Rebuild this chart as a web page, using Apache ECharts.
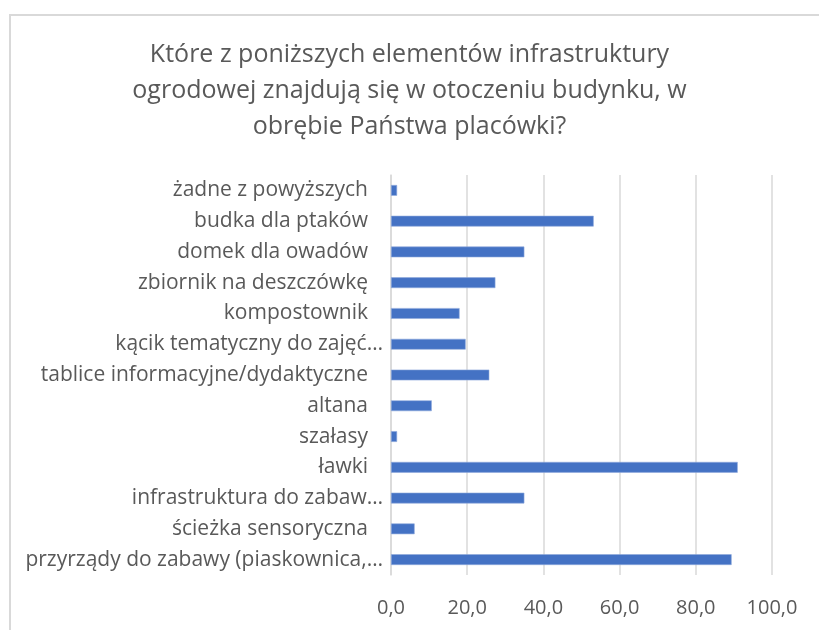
<!DOCTYPE html>
<html>
<head>
<meta charset="utf-8">
<script src="https://cdn.jsdelivr.net/npm/echarts@6/dist/echarts.min.js"></script>
<style>
  html, body { margin: 0; padding: 0; background: #fff; }
  #chart { width: 819px; height: 630px; }
</style>
</head>
<body>
<div id="chart"></div>
<script>
// kategorie od góry do dołu
const categories = [
  "żadne z powyższych",
  "budka dla ptaków",
  "domek dla owadów",
  "zbiornik na deszczówkę",
  "kompostownik",
  "kącik tematyczny do zajęć…",
  "tablice informacyjne/dydaktyczne",
  "altana",
  "szałasy",
  "ławki",
  "infrastruktura do zabaw…",
  "ścieżka sensoryczna",
  "przyrządy do zabawy (piaskownica,…"
];
const values = [1.6, 53.2, 35.0, 27.4, 18.0, 19.6, 25.8, 10.7, 1.6, 91.0, 35.0, 6.2, 89.4];
const xTicks = [0, 20, 40, 60, 80, 100];

const fontFamily = "'Open Sans', 'Noto Sans', sans-serif";
const textColor = "#595959";

let myChart = echarts.init(document.getElementById("chart"));
myChart.setOption({
  animation: false,
  textStyle: { fontFamily: fontFamily },
  title: {
    text: "Które z poniższych elementów infrastruktury\nogrodowej znajdują się w otoczeniu budynku, w\nobrębie Państwa placówki?",
    left: "center",
    top: 32,
    textStyle: {
      fontFamily: fontFamily,
      fontSize: 25,
      fontWeight: "normal",
      lineHeight: 36,
      color: textColor,
    },
  },
  // ramka wykresu (jak w Excelu)
  graphic: [
    {
      type: "rect",
      shape: { x: 10, y: 15, width: 900, height: 700 },
      style: { fill: "none", stroke: "#d9d9d9", lineWidth: 2 },
      silent: true,
    },
  ],
  grid: {
    left: 391,
    right: 47,
    top: 175,
    bottom: 55,
  },
  xAxis: {
    type: "value",
    min: xTicks[0],
    max: xTicks[xTicks.length - 1],
    interval: 20,
    axisLine: { show: false },
    axisTick: { show: false },
    axisLabel: {
      margin: 23,
      fontSize: 20,
      color: textColor,
      fontFamily: fontFamily,
      formatter: (v) => v.toFixed(1).replace(".", ","),
    },
    splitLine: {
      lineStyle: { color: "#d9d9d9", width: 1.5 },
    },
  },
  yAxis: {
    type: "category",
    inverse: true,
    data: categories,
    axisLine: { show: true, lineStyle: { color: "#d9d9d9", width: 1.5 } },
    axisTick: { show: false },
    axisLabel: {
      margin: 8,
      fontSize: 21,
      color: textColor,
      fontFamily: fontFamily,
      // skrócone etykiety (z "…") sięgają dalej w prawo, jak w Excelu
      formatter: (v) => (v.endsWith("…") ? v : v + "{pad|}"),
      rich: {
        pad: { width: 15 },
      },
    },
  },
  series: [
    {
      type: "bar",
      data: values,
      barCategoryGap: "65%",
      itemStyle: {
        color: "#4472c4",
        borderColor: "#8fa9dc",
        borderWidth: 0.6,
      },
    },
  ],
});

window.addEventListener("resize", () => {
  myChart.resize();
});
</script>
</body>
</html>
